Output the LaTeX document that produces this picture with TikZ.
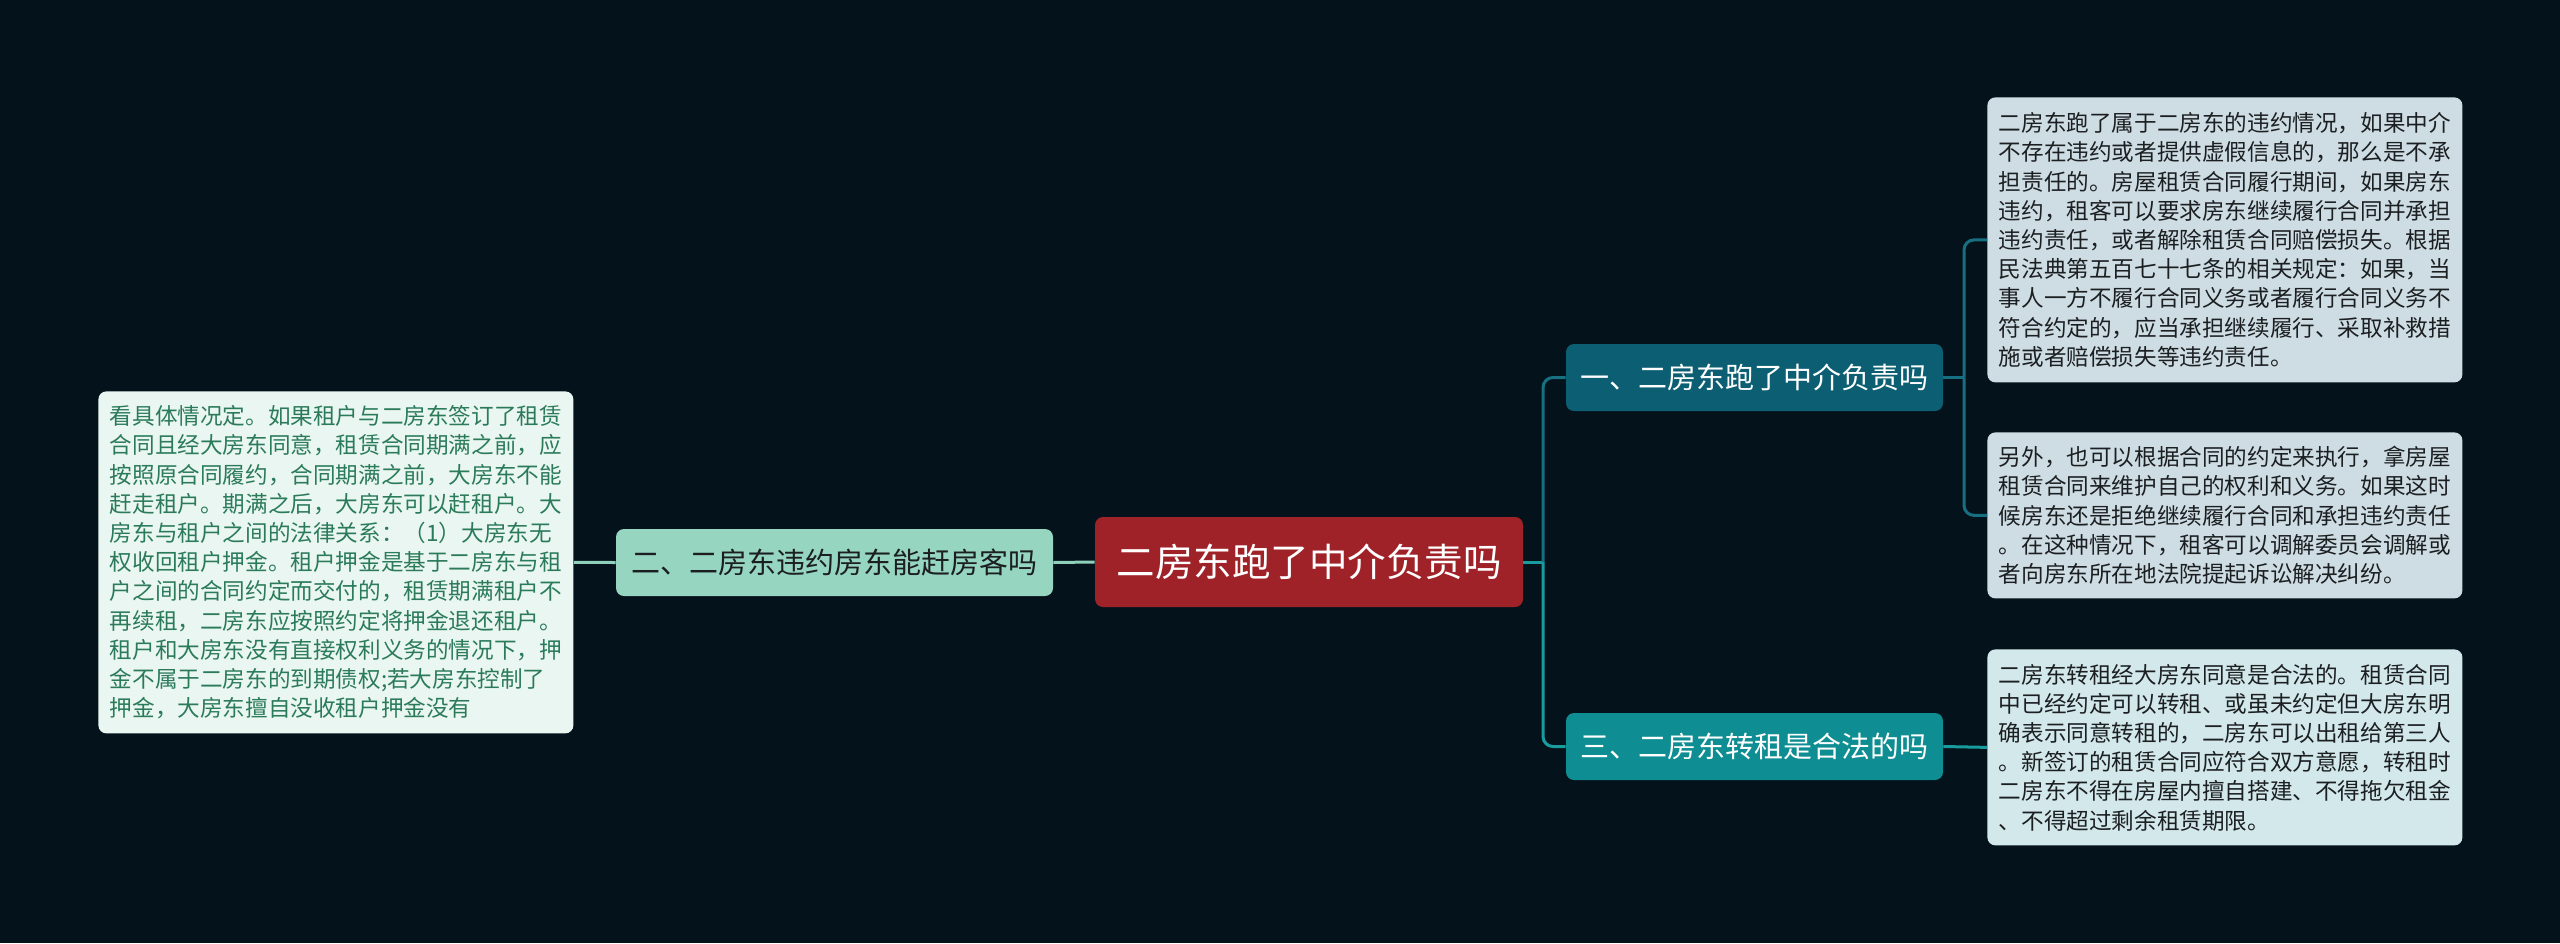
\documentclass[tikz,border=0pt]{standalone}
\usepackage{fontspec}
\setmainfont{Noto Sans CJK SC}

\definecolor{bgnavy}{HTML}{03121B}
\definecolor{rootred}{HTML}{9F2228}
\definecolor{mintfill}{HTML}{96D5BF}
\definecolor{mintleaf}{HTML}{EAF6F1}
\definecolor{mintline}{HTML}{8FD0BA}
\definecolor{leaftext}{HTML}{2B7B5B}
\definecolor{darkteal}{HTML}{0C5F73}
\definecolor{brightteal}{HTML}{0E8E92}
\definecolor{darkline}{HTML}{176F82}
\definecolor{tealline}{HTML}{1A9B9D}
\definecolor{greyleaf}{HTML}{CEDDE3}
\definecolor{tealleaf}{HTML}{D3E8EA}
\definecolor{inktext}{HTML}{1C1F22}

\tikzset{every picture/.style={line width=0.75pt}}

\begin{document}
\begin{tikzpicture}[x=1pt,y=1pt,yscale=-1,
  box/.style={rounded corners=8pt, inner sep=0pt, align=center},
  rootbox/.style={box, fill=rootred, text=white, font=\fontsize{38.5}{44}\selectfont},
  topicbox/.style={box, text=white, font=\fontsize{29}{34}\selectfont},
  leafbox/.style={box, align=left, text width=452pt, inner xsep=11.5pt, text=inktext,
    font=\fontsize{22.6}{29.2}\selectfont},
  link/.style={line width=3pt}]
	\useasboundingbox (0,0) rectangle (2560,943);
	\fill[bgnavy] (0,0) rectangle (2560,943);

	% root
	\node[rootbox, minimum width=428, minimum height=90] (root) at (1309,562) {二房东跑了中介负责吗};

	% topics
	\node[topicbox, fill=darkteal, minimum width=377, minimum height=67] (b1) at (1754.5,377.5) {一、二房东跑了中介负责吗};
	\node[topicbox, fill=mintfill, text=inktext, minimum width=437, minimum height=67] (b2) at (834.5,562.5) {二、二房东违约房东能赶房客吗};
	\node[topicbox, fill=brightteal, minimum width=377, minimum height=67] (b3) at (1754.5,746.5) {三、二房东转租是合法的吗};

	% leaves
	\node[leafbox, fill=greyleaf, minimum height=285, anchor=north west] (l1) at (1987,97) {二房东跑了属于二房东的违约情况，如果中介\\不存在违约或者提供虚假信息的，那么是不承\\担责任的。房屋租赁合同履行期间，如果房东\\违约，租客可以要求房东继续履行合同并承担\\违约责任，或者解除租赁合同赔偿损失。根据\\民法典第五百七十七条的相关规定：如果，当\\事人一方不履行合同义务或者履行合同义务不\\符合约定的，应当承担继续履行、采取补救措\\施或者赔偿损失等违约责任。};
	\node[leafbox, fill=greyleaf, minimum height=166, anchor=north west] (l2) at (1987,432) {另外，也可以根据合同的约定来执行，拿房屋\\租赁合同来维护自己的权利和义务。如果这时\\候房东还是拒绝继续履行合同和承担违约责任\\。在这种情况下，租客可以调解委员会调解或\\者向房东所在地法院提起诉讼解决纠纷。};
	\node[leafbox, fill=tealleaf, minimum height=196, anchor=north west] (l3) at (1987,649) {二房东转租经大房东同意是合法的。租赁合同\\中已经约定可以转租、或虽未约定但大房东明\\确表示同意转租的，二房东可以出租给第三人\\。新签订的租赁合同应符合双方意愿，转租时\\二房东不得在房屋内擅自搭建、不得拖欠租金\\、不得超过剩余租赁期限。};
	\node[leafbox, fill=mintleaf, text=leaftext, minimum height=342, anchor=north west] (l4) at (98,391) {看具体情况定。如果租户与二房东签订了租赁\\合同且经大房东同意，租赁合同期满之前，应\\按照原合同履约，合同期满之前，大房东不能\\赶走租户。期满之后，大房东可以赶租户。大\\房东与租户之间的法律关系：（1）大房东无\\权收回租户押金。租户押金是基于二房东与租\\户之间的合同约定而交付的，租赁期满租户不\\再续租，二房东应按照约定将押金退还租户。\\租户和大房东没有直接权利义务的情况下，押\\金不属于二房东的到期债权;若大房东控制了\\押金，大房东擅自没收租户押金没有};

	% links right
	\coordinate (jr) at (1543,562);
	\coordinate (j1) at (1964,377.5);
	\draw[link, tealline] (root.east) -- (jr);
	\draw[link, darkline, rounded corners=10] (jr) |- (b1.west);
	\draw[link, tealline, rounded corners=10] (jr) |- (b3.west);
	\draw[link, darkline] (b1.east) -- (j1);
	\draw[link, darkline, rounded corners=10] (j1) |- (l1.west);
	\draw[link, darkline, rounded corners=10] (j1) |- (l2.west);
	\draw[link, tealline] (b3.east) -- (l3.west);
	% links left
	\draw[link, mintline] (root.west) -- (b2.east);
	\draw[link, mintline] (b2.west) -- (l4.east);

\end{tikzpicture}
\end{document}
